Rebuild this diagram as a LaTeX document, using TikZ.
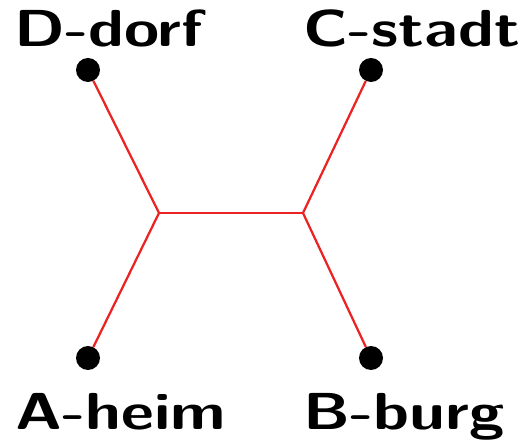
\documentclass[tikz,border=0pt]{standalone}
\usepackage{graphicx}
\usepackage{tikz}
\usetikzlibrary{positioning}

\definecolor{roadred}{RGB}{235,35,35}
\newcommand{\townname}[1]{\scalebox{1.23}[1]{#1}}

\begin{document}
\begin{tikzpicture}[
  town/.style={circle, fill=black, inner sep=0pt, minimum size=0.6cm},
  townlabel/.style={inner sep=0pt, anchor=base west, font=\fontsize{37}{40}\selectfont\sffamily\bfseries},
  road/.style={roadred, line width=1.6pt}
]
\useasboundingbox (0,0) rectangle (13.275,11.025);

% Towns
\node[town] (dd) at (2.2,9.275) {};
\node[town] (cs) at (9.275,9.275) {};
\node[town] (ah) at (2.2,2.075) {};
\node[town] (bb) at (9.275,2.075) {};

% Steiner points
\coordinate (s1) at (3.975,5.7);
\coordinate (s2) at (7.575,5.7);

% Roads
\draw[road] (dd) -- (s1) -- (ah);
\draw[road] (cs) -- (s2) -- (bb);
\draw[road] (s1) -- (s2);

% Names
\node[townlabel] (ddname) at (0.35,9.85) {\townname{D-dorf}};
\node[townlabel] (csname) at (7.575,9.85) {\townname{C-stadt}};
\node[townlabel] (ahname) at (0.375,0.275) {\townname{A-heim}};
\node[townlabel] (bbname) at (7.575,0.275) {\townname{B-burg}};

\end{tikzpicture}
\end{document}
